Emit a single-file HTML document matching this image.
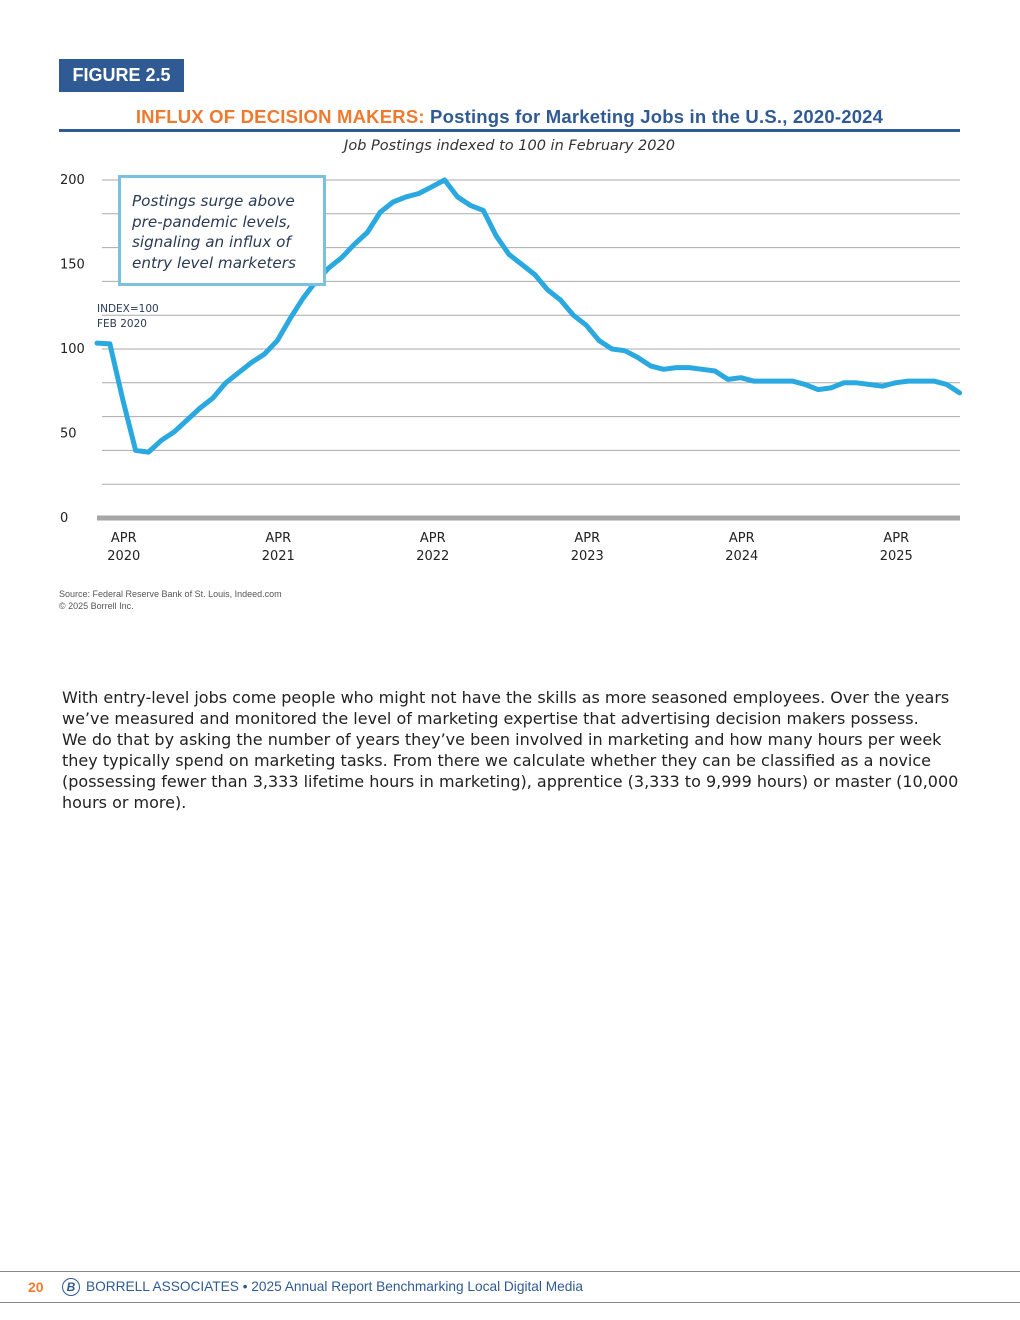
<!DOCTYPE html>
<html><head><meta charset="utf-8"><style>
body{margin:0;width:1020px;height:1320px;background:#fff;position:relative;font-family:"Liberation Sans",sans-serif;overflow:hidden}
.abs{position:absolute}
</style></head><body>
<div class="abs" style="left:59px;top:59px;width:125px;height:33px;background:#2f5a93;color:#fff;font-weight:bold;font-size:18px;line-height:33px;text-align:center">FIGURE 2.5</div>
<div class="abs" style="left:59px;width:901px;top:106px;text-align:center;font-weight:bold;font-size:18.5px;letter-spacing:0.2px;color:#2f5a93"><span style="color:#ee7a30">INFLUX OF DECISION MAKERS:</span> Postings for Marketing Jobs in the U.S., 2020-2024</div>
<div class="abs" style="left:59px;top:129px;width:901px;height:3px;background:#2f5a93"></div>
<div class="abs" style="left:59px;width:901px;top:138px;text-align:center;font-style:italic;font-size:14.5px;color:#333;font-family:'DejaVu Sans',sans-serif">Job Postings indexed to 100 in February 2020</div>
<svg class="abs" style="left:0;top:0" width="1020" height="620" id="chart">
<g id="grid"></g><g id="ylabels"></g><g id="xlabels"></g>
<path id="line" fill="none" stroke="#2aa8e0" stroke-width="5" stroke-linejoin="round" stroke-linecap="round"/>
</svg>
<div class="abs" style="left:118px;top:175px;width:202px;height:105px;border:3px solid #7cc0df;background:#fff;box-sizing:content-box"><div style="padding:13px 0 0 11px;font-family:'DejaVu Sans',sans-serif;font-style:italic;font-size:15.2px;line-height:20.5px;color:#2b3a55">Postings surge above<br>pre-pandemic levels,<br>signaling an influx of<br>entry level marketers</div></div>
<div class="abs" style="left:97px;top:302px;font-family:'DejaVu Sans',sans-serif;font-size:10.5px;line-height:15px;color:#2b3a55">INDEX=100<br>FEB 2020</div>
<div class="abs" style="left:59px;top:588px;font-size:9px;line-height:12px;color:#555">Source: Federal Reserve Bank of St. Louis, Indeed.com<br>© 2025 Borrell Inc.</div>
<div class="abs" style="left:62px;top:687px;width:940px;white-space:nowrap;font-family:'DejaVu Sans',sans-serif;font-size:16px;line-height:21px;color:#222">With entry-level jobs come people who might not have the skills as more seasoned employees. Over the years<br>we’ve measured and monitored the level of marketing expertise that advertising decision makers possess.<br>We do that by asking the number of years they’ve been involved in marketing and how many hours per week<br>they typically spend on marketing tasks. From there we calculate whether they can be classified as a novice<br>(possessing fewer than 3,333 lifetime hours in marketing), apprentice (3,333 to 9,999 hours) or master (10,000<br>hours or more).</div>
<div class="abs" style="left:0;top:1271px;width:1020px;height:1px;background:#888"></div>
<div class="abs" style="left:0;top:1302px;width:1020px;height:1px;background:#888"></div>
<div class="abs" style="left:28px;top:1279px;font-weight:bold;font-size:14px;color:#ee7a30">20</div>
<div class="abs" style="left:62px;top:1278px;width:16px;height:16px;border:1.5px solid #2f5a93;border-radius:50%;color:#2f5a93;font-size:12px;line-height:16px;text-align:center;font-weight:bold;font-style:italic">B</div>
<div class="abs" style="left:86px;top:1279px;font-size:13.7px;color:#2f5a93">BORRELL ASSOCIATES • 2025 Annual Report Benchmarking Local Digital Media</div>
<script>
const values=[103.5,103,70,40,39,46,51,58,65,71,80,86,92,97,105,118,130,140,148,154,162,169,181,187,190,192,196,200,190,185,182,167,156,150,144,135,129,120,114,105,100,99,95,90,88,89,89,88,87,82,83,81,81,81,81,79,76,77,80,80,79,78,80,81,81,81,79,74];
const yTicks=[0,50,100,150,200];
const xTickLabels=[["APR","2020"],["APR","2021"],["APR","2022"],["APR","2023"],["APR","2024"],["APR","2025"]];
const xTickMonths=[2,14,26,38,50,62];
const NS="http://www.w3.org/2000/svg";
const y=v=>518-v*1.69;
const x=m=>97+m*12.875;
const grid=document.getElementById('grid');
for(let v=20;v<=200;v+=20){const l=document.createElementNS(NS,'line');
l.setAttribute('x1',102);l.setAttribute('x2',960);l.setAttribute('y1',y(v));l.setAttribute('y2',y(v));l.setAttribute('stroke','#aaa');l.setAttribute('stroke-width',1);


grid.appendChild(l);}
const ax=document.createElementNS(NS,'line');
ax.setAttribute('x1',97);ax.setAttribute('x2',960);ax.setAttribute('y1',518);ax.setAttribute('y2',518);ax.setAttribute('stroke','#a6a6a6');ax.setAttribute('stroke-width',5);


grid.appendChild(ax);
const yl=document.getElementById('ylabels');
yTicks.forEach(v=>{const t=document.createElementNS(NS,'text');t.setAttribute('x',60);t.setAttribute('y',y(v)+4);t.setAttribute('font-size',13);t.setAttribute('fill','#222');t.setAttribute('font-family','DejaVu Sans, sans-serif');t.textContent=v;


yl.appendChild(t);});
const xl=document.getElementById('xlabels');
xTickLabels.forEach((lb,i)=>{lb.forEach((s,j)=>{const t=document.createElementNS(NS,'text');t.setAttribute('x',x(xTickMonths[i])+1);t.setAttribute('y',542+j*18);t.setAttribute('text-anchor','middle');t.setAttribute('font-size',13);t.setAttribute('fill','#222');t.setAttribute('font-family','DejaVu Sans, sans-serif');t.textContent=s;


xl.appendChild(t);});});
document.getElementById('line').setAttribute('d',values.map((v,i)=>(i?'L':'M')+x(i).toFixed(1)+','+y(v).toFixed(1)).join(''));
</script>
</body></html>
